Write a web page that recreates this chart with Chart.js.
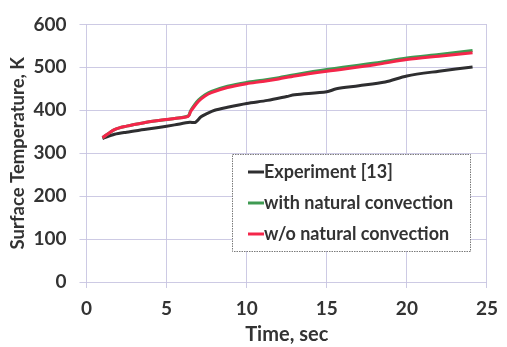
<!DOCTYPE html>
<html>
<head>
<meta charset="utf-8">
<script src="https://cdn.jsdelivr.net/npm/chart.js@4.4.1/dist/chart.umd.min.js"></script>
<style>
  html, body { margin: 0; padding: 0; background: #ffffff; }
  #wrap { width: 507px; height: 347px; position: relative; }
</style>
</head>
<body>
<div id="wrap"><canvas id="c" width="507" height="347"></canvas></div>
<script>
// ---- data ----
const seriesLabels = ["Experiment [13]", "with natural convection", "w/o natural convection"];

const expTime = [1, 1.75, 2.5, 3.6, 4.5, 5.5, 6.45, 6.8, 7.15, 7.5, 8, 8.8, 10, 11.3, 12.5, 13, 15, 15.6, 17, 18.65, 20, 22, 24.1];
const expTemp = [334, 344, 349, 355, 360, 366, 372, 372, 385, 392, 400, 407, 416, 423, 432, 436, 443, 450, 457, 466, 480, 491, 501];

const modelTime = [1, 1.75, 2.5, 3.6, 4.5, 5.5, 6.35, 6.5, 6.75, 7.0, 7.4, 7.8, 8.8, 10, 11, 12, 13, 15, 18, 20, 22, 24.1];
const withConvTemp = [336, 355, 363, 371, 376, 381, 387, 399, 413, 424, 436, 444, 456, 465, 470, 476, 483, 495, 510, 522, 530, 539];
const woConvTemp   = [336, 355, 363, 371, 376, 381, 386, 397, 410, 421, 433, 441, 453, 462, 467, 473, 480, 491, 506, 518, 526, 534];

const xTicks = [0, 5, 10, 15, 20, 25];
const yTicks = [0, 100, 200, 300, 400, 500, 600];
const xTitle = "Time, sec";
const yTitle = "Surface Temperature, K";

const seriesColors = ["#2e2e30", "#3f9a52", "#f4264a"];

function pts(xs, ys) { return xs.map((x, i) => ({ x: x, y: ys[i] })); }

const FONT = "Lato";
const TEXT = "#333333";
const GRID = "rgba(200,196,225,0.9)";

const insideLegend = {
  id: "insideLegend",
  afterDraw(chart) {
    const ctx = chart.ctx;
    const box = { l: 232, t: 154, r: 470, b: 251 };
    ctx.save();
    ctx.fillStyle = "#ffffff";
    ctx.fillRect(box.l, box.t, box.r - box.l, box.b - box.t);
    ctx.strokeStyle = "#7a7a7a";
    ctx.lineWidth = 1;
    ctx.setLineDash([1.5, 1]);
    ctx.strokeRect(box.l + 0.5, box.t + 0.5, box.r - box.l, box.b - box.t);
    ctx.setLineDash([]);
    const ys = [172, 203, 234];
    chart.data.datasets.forEach((ds, i) => {
      const y = ys[i];
      ctx.strokeStyle = ds.borderColor;
      ctx.lineWidth = 3;
      ctx.beginPath();
      ctx.moveTo(248, y);
      ctx.lineTo(264, y);
      ctx.stroke();
      ctx.fillStyle = TEXT;
      ctx.font = "bold 18px " + FONT;
      ctx.textBaseline = "middle";
      ctx.textAlign = "left";
      ctx.fillText(ds.label, 264, y);
    });
    ctx.restore();
  }
};

new Chart(document.getElementById("c"), {
  type: "line",
  data: {
    datasets: [
      { label: seriesLabels[0], data: pts(expTime, expTemp), borderColor: seriesColors[0], backgroundColor: seriesColors[0], borderWidth: 3, pointRadius: 0, tension: 0.3, order: 3 },
      { label: seriesLabels[1], data: pts(modelTime, withConvTemp), borderColor: seriesColors[1], backgroundColor: seriesColors[1], borderWidth: 3, pointRadius: 0, tension: 0.3, order: 2 },
      { label: seriesLabels[2], data: pts(modelTime, woConvTemp), borderColor: seriesColors[2], backgroundColor: seriesColors[2], borderWidth: 3, pointRadius: 0, tension: 0.3, order: 1 }
    ]
  },
  options: {
    responsive: false,
    animation: false,
    layout: { padding: { left: 0, right: 14, top: 17, bottom: 0 } },
    plugins: { legend: { display: false }, tooltip: { enabled: false } },
    scales: {
      x: {
        type: "linear", min: 0, max: 25,
        afterBuildTicks(s) { s.ticks = xTicks.map(v => ({ value: v })); },
        afterFit(s) { s.height = 65; },
        border: { display: false },
        grid: { color: GRID, tickLength: 6, lineWidth: 1 },
        ticks: { color: TEXT, font: { family: FONT, size: 19, weight: "bold" }, padding: 9, maxRotation: 0 },
        title: { display: true, text: xTitle, color: TEXT, font: { family: FONT, size: 20, weight: "bold" }, padding: { top: 1, bottom: 0 } }
      },
      y: {
        type: "linear", min: 0, max: 600,
        afterBuildTicks(s) { s.ticks = yTicks.map(v => ({ value: v })); },
        afterFit(s) { s.width = 86.5; },
        border: { display: false },
        grid: { color: GRID, tickLength: 7, lineWidth: 1 },
        ticks: { color: TEXT, font: { family: FONT, size: 19, weight: "bold" }, padding: 13 },
        title: { display: true, text: yTitle, color: TEXT, font: { family: FONT, size: 18.5, weight: "bold" }, padding: { top: 7, bottom: 0 } }
      }
    }
  },
  plugins: [insideLegend]
});
</script>
</body>
</html>
